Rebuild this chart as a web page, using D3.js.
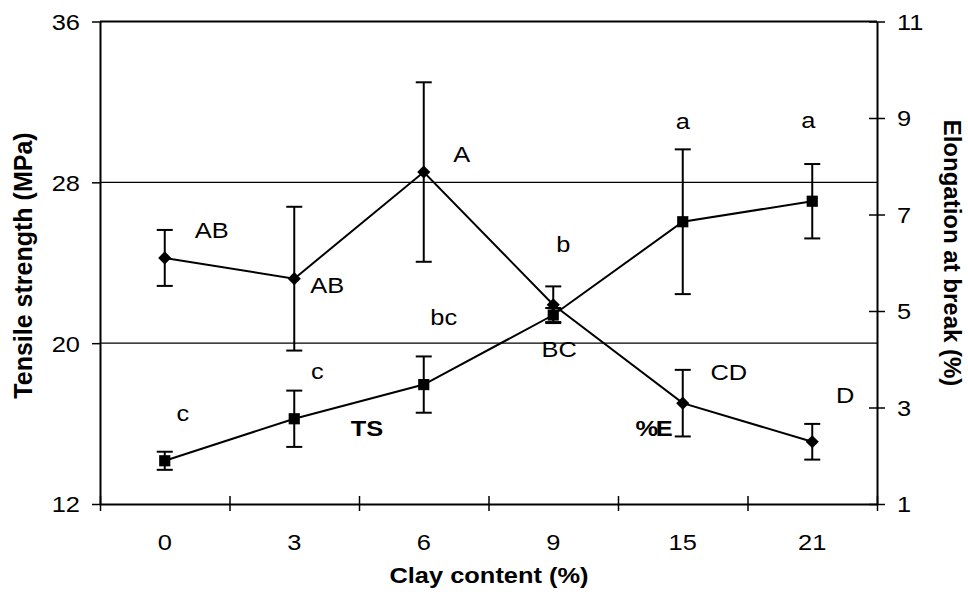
<!DOCTYPE html>
<html>
<head>
<meta charset="utf-8">
<script src="https://cdn.jsdelivr.net/npm/d3@7"></script>
<style>
  body { margin: 0; background: #fff; }
  svg text { font-family: "Liberation Sans", Arial, sans-serif; fill: #000; }
</style>
</head>
<body>
<div id="chart"></div>
<script>
// clay content categories
let categories = ["0", "3", "6", "9", "15", "21"];

// tensile strength (MPa), squares, left axis
let tsMean = [14.15, 16.24, 17.94, 21.4, 26.04, 27.06];
let tsErr = [0.45, 1.4, 1.4, 0.35, 3.6, 1.85];
let tsLetters = ["c", "c", "bc", "b", "a", "a"];

// elongation at break (%), diamonds, right axis
let eMean = [6.1, 5.67, 7.88, 5.13, 3.09, 2.29];
let eErr = [0.58, 1.49, 1.86, 0.38, 0.69, 0.37];
let eLetters = ["AB", "AB", "A", "BC", "CD", "D"];

let leftTicks = [12, 20, 28, 36];
let rightTicks = [1, 3, 5, 7, 9, 11];
let gridValues = [20, 28];

// label placement (px offsets from marker)
let tsLetterOffset = [[18, -40], [23, -40], [20, -60], [10, -63], [0, -93], [-4, -73]];
let eLetterOffset = [[47, -20], [33, 14], [38, -10], [6, 52], [46, -23], [33, -39]];

let width = 968, height = 595;
let margin = {top: 21.5, right: 91, bottom: 91, left: 100};
let sx = 1.13;   // horizontal stretch of the original text
let fs = 22.5;

let svg = d3.select("#chart").append("svg")
            .attr("width", width)
            .attr("height", height);

let x = d3.scaleBand()
          .domain(categories)
          .range([margin.left, width - margin.right])
          .padding(0);

let xEdge = d3.scaleLinear()
              .domain([0, categories.length])
              .range([margin.left, width - margin.right]);

let yL = d3.scaleLinear()
           .domain([12, 36])
           .range([height - margin.bottom, margin.top]);

let yR = d3.scaleLinear()
           .domain([1, 11])
           .range([height - margin.bottom, margin.top]);

let cx = (d, i) => x(categories[i]) + x.bandwidth() / 2;

// gridlines
svg.selectAll(".grid")
   .data(gridValues)
   .enter().append("line")
   .attr("x1", margin.left).attr("x2", width - margin.right)
   .attr("y1", d => yL(d)).attr("y2", d => yL(d))
   .attr("stroke", "#000").attr("stroke-width", 1.2);

// top border
svg.append("line")
   .attr("x1", margin.left).attr("x2", width - margin.right)
   .attr("y1", yL(36)).attr("y2", yL(36))
   .attr("stroke", "#000").attr("stroke-width", 2);

// left axis
let gL = svg.append("g")
            .attr("transform", `translate(${margin.left},0)`)
            .call(d3.axisLeft(yL).tickValues(leftTicks).tickSize(8).tickSizeOuter(0));
gL.select(".domain").attr("stroke-width", 2);
gL.selectAll(".tick line").attr("stroke-width", 1.5);
gL.selectAll(".tick text")
  .attr("x", 0).attr("dy", "0.35em")
  .attr("transform", `translate(-20,0) scale(${sx},1)`)
  .style("font-size", fs + "px");

// right axis
let gR = svg.append("g")
            .attr("transform", `translate(${width - margin.right},0)`)
            .call(d3.axisRight(yR).tickValues(rightTicks).tickSize(8).tickSizeOuter(0));
gR.select(".domain").attr("stroke-width", 2);
gR.selectAll(".tick line").attr("x1", -8).attr("stroke-width", 1.5);
gR.selectAll(".tick text")
  .attr("x", 0).attr("dy", "0.35em")
  .attr("transform", `translate(20,0) scale(${sx},1)`)
  .style("font-size", fs + "px");

// bottom axis: ticks at band edges, labels at centres
let gB = svg.append("g")
            .attr("transform", `translate(0,${height - margin.bottom})`)
            .call(d3.axisBottom(xEdge).ticks(categories.length).tickSize(7).tickSizeOuter(0).tickFormat(""));
gB.select(".domain").attr("stroke-width", 2);
gB.selectAll(".tick line").attr("y1", -8).attr("stroke-width", 1.5);

let gB2 = svg.append("g")
             .attr("transform", `translate(0,${height - margin.bottom})`)
             .call(d3.axisBottom(x).tickSize(0));
gB2.select(".domain").remove();
gB2.selectAll(".tick text")
   .attr("y", 0).attr("dy", 0)
   .attr("transform", `translate(0,46) scale(${sx},1)`)
   .style("font-size", fs + "px");

// series drawing helper
function drawSeries(mean, err, yScale, symbol, size) {
    let line = d3.line()
                 .x((d, i) => cx(d, i))
                 .y(d => yScale(d));

    svg.append("path")
       .datum(mean)
       .attr("d", line)
       .attr("fill", "none")
       .attr("stroke", "#000")
       .attr("stroke-width", 2);

    let bars = svg.append("g");
    mean.forEach(function (m, i) {
        let px = cx(m, i);
        let top = yScale(m + err[i]), bot = yScale(m - err[i]);
        bars.append("line")
            .attr("x1", px).attr("x2", px).attr("y1", top).attr("y2", bot)
            .attr("stroke", "#000").attr("stroke-width", 2);
        [top, bot].forEach(function (yy) {
            bars.append("line")
                .attr("x1", px - 8).attr("x2", px + 8).attr("y1", yy).attr("y2", yy)
                .attr("stroke", "#000").attr("stroke-width", 2);
        });
    });

    svg.append("g").selectAll("path")
       .data(mean)
       .enter().append("path")
       .attr("d", d3.symbol().type(symbol).size(size))
       .attr("transform", (d, i) => `translate(${cx(d, i)},${yScale(d)})`)
       .attr("fill", "#000");
}

drawSeries(eMean, eErr, yR, d3.symbolDiamond2, 110);
drawSeries(tsMean, tsErr, yL, d3.symbolSquare, 125);

// significance letters
function drawLetters(mean, letters, offsets, yScale) {
    svg.append("g").selectAll("text")
       .data(letters)
       .enter().append("text")
       .attr("text-anchor", "middle")
       .attr("transform", (d, i) => `translate(${cx(d, i) + offsets[i][0]},${yScale(mean[i]) + offsets[i][1]}) scale(${sx},1)`)
       .style("font-size", fs + "px")
       .text(d => d);
}
drawLetters(tsMean, tsLetters, tsLetterOffset, yL);
drawLetters(eMean, eLetters, eLetterOffset, yR);

// series names
svg.append("text")
   .attr("text-anchor", "middle")
   .attr("transform", `translate(367,436) scale(${sx},1)`)
   .style("font-size", fs + "px").style("font-weight", "bold")
   .text("TS");
svg.append("text")
   .attr("text-anchor", "middle")
   .attr("transform", `translate(653,436) scale(${sx},1)`)
   .style("font-size", fs + "px").style("font-weight", "bold")
   .attr("letter-spacing", "-2px")
   .text("%E");

// axis titles
svg.append("text")
   .attr("text-anchor", "middle")
   .attr("transform", `translate(489,583) scale(${sx},1)`)
   .style("font-size", fs + "px").style("font-weight", "bold")
   .text("Clay content (%)");

svg.append("text")
   .attr("text-anchor", "middle")
   .attr("transform", "translate(31.5,265.5) rotate(-90)")
   .style("font-size", "25px").style("font-weight", "bold")
   .text("Tensile strength (MPa)");

svg.append("text")
   .attr("text-anchor", "middle")
   .attr("transform", "translate(944,253) rotate(90)")
   .style("font-size", "24px").style("font-weight", "bold")
   .text("Elongation at break (%)");
</script>
</body>
</html>
